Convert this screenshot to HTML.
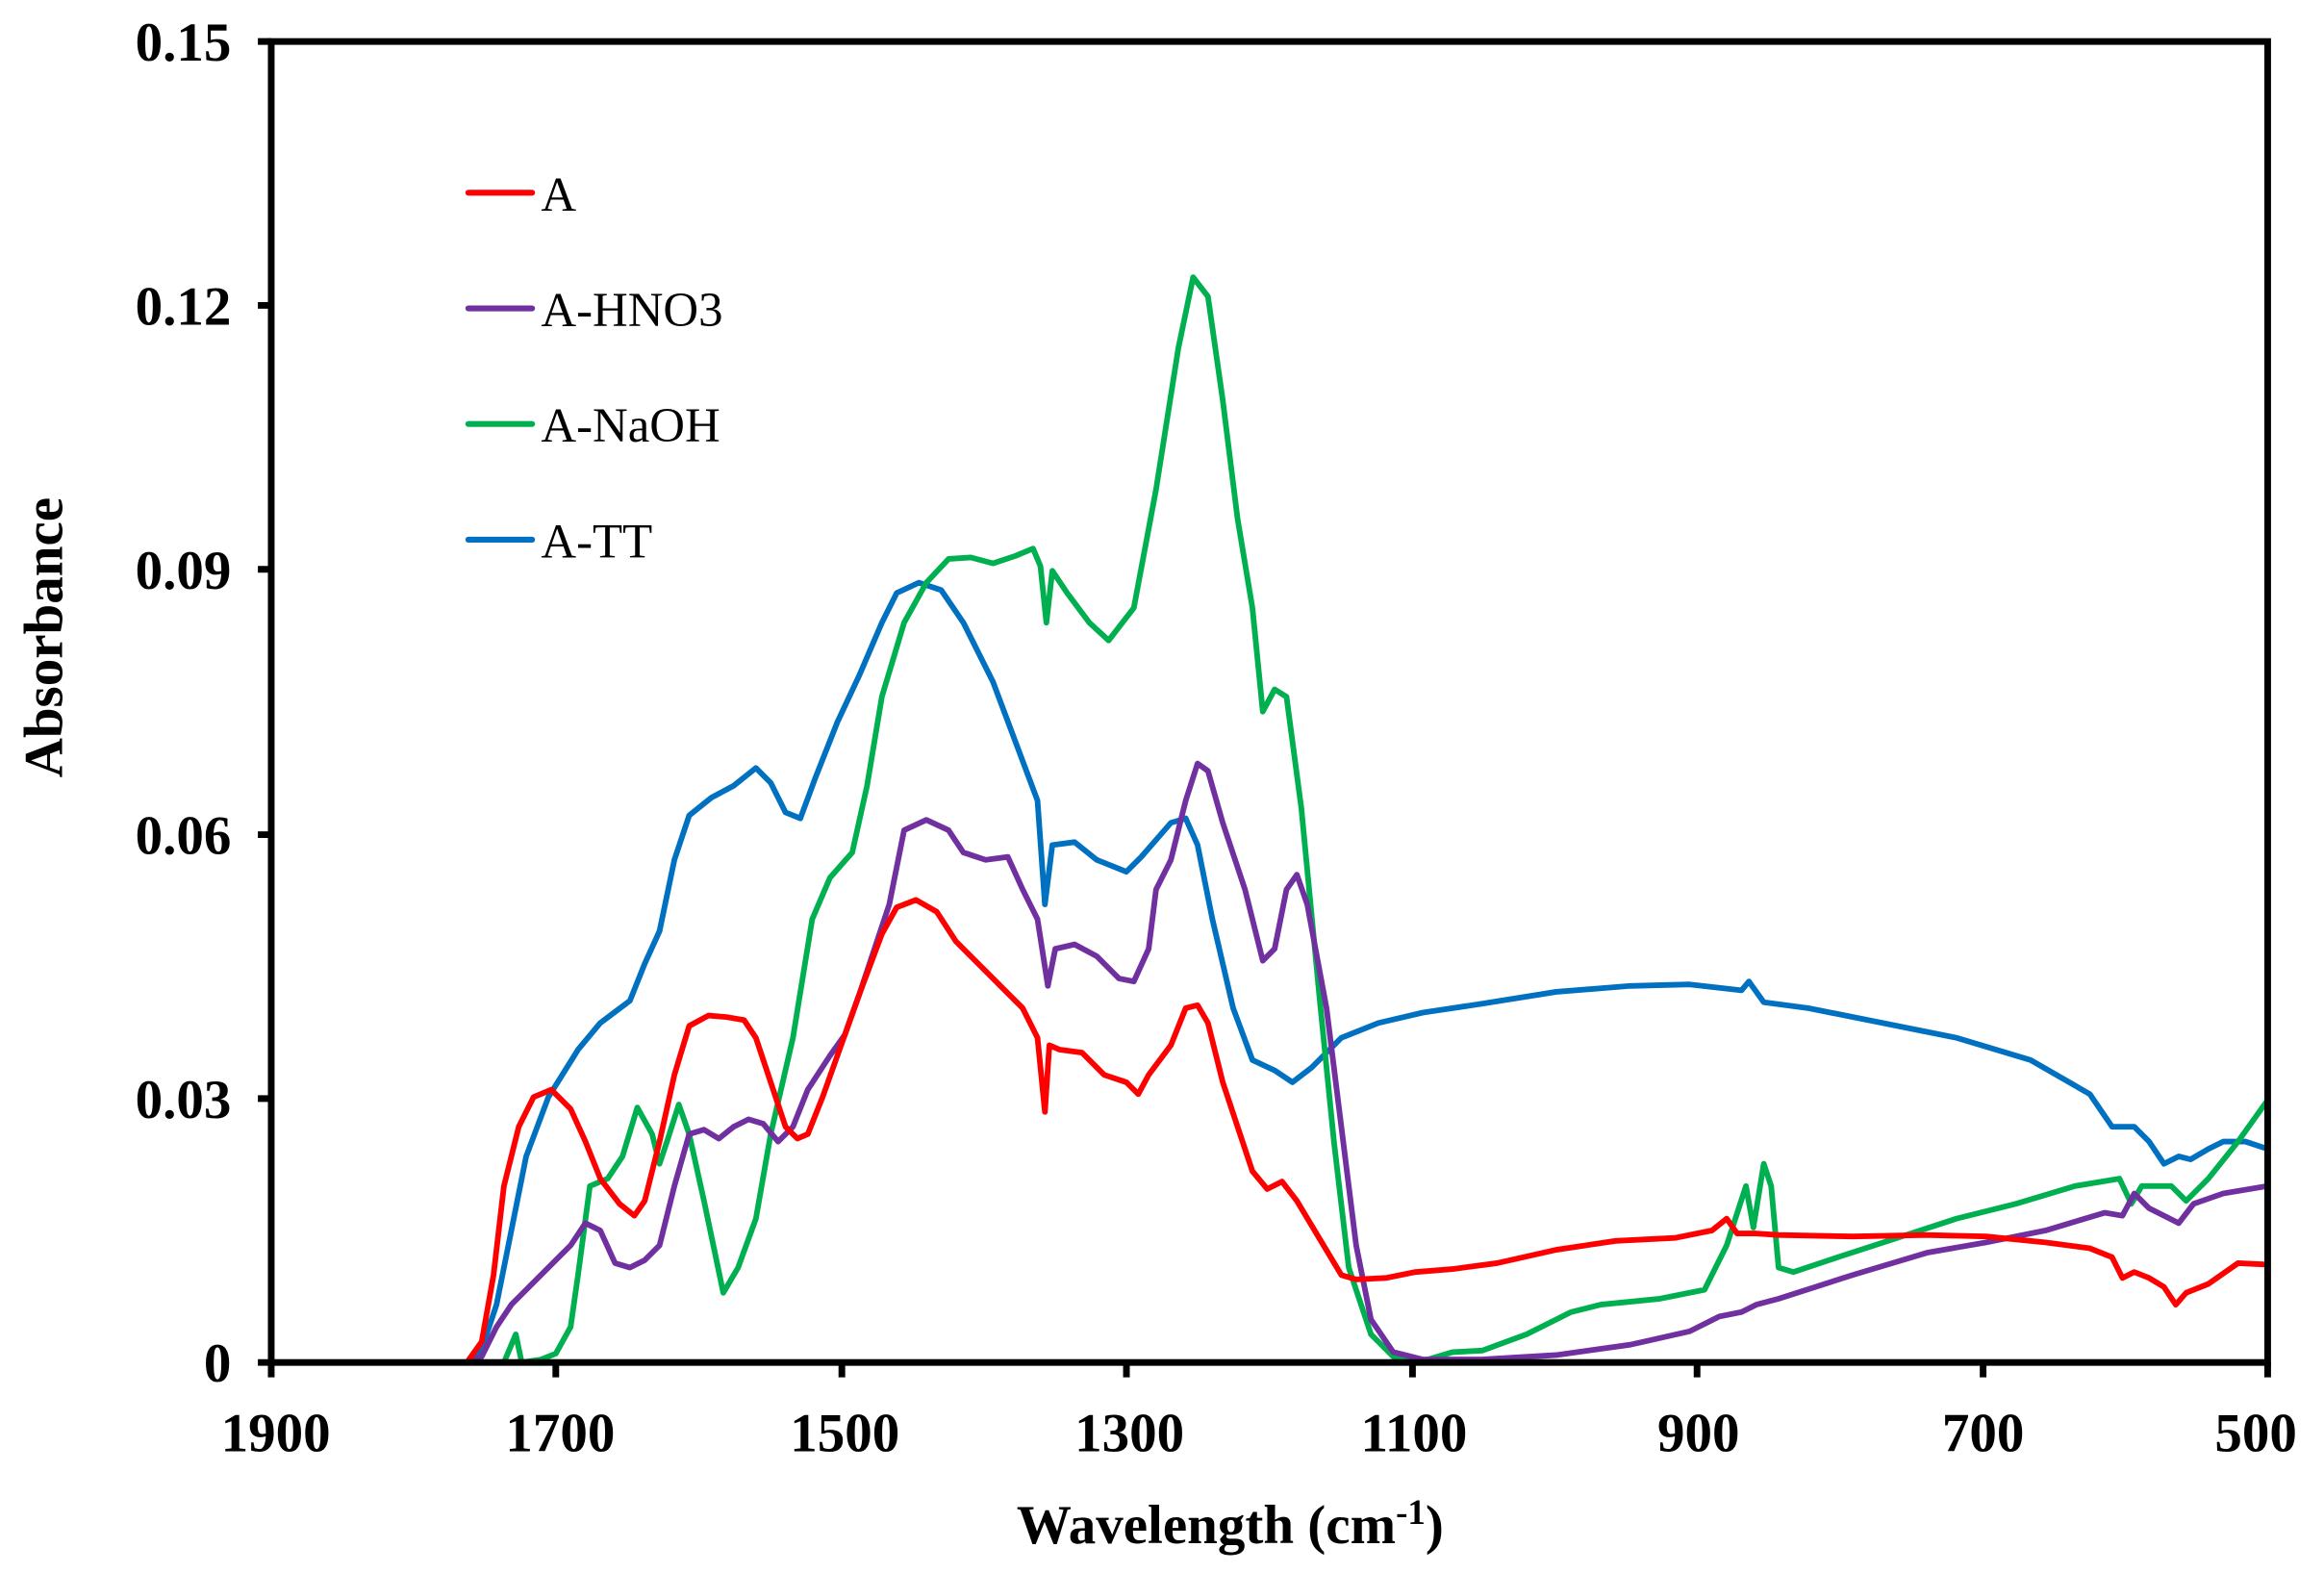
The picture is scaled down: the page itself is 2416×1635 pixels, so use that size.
<!DOCTYPE html>
<html><head><meta charset="utf-8"><style>html,body{margin:0;padding:0;background:#fff}svg{display:block}</style></head>
<body>
<svg width="2416" height="1635" viewBox="0 0 1568 1061" preserveAspectRatio="none" xmlns="http://www.w3.org/2000/svg">
<rect width="1568" height="1061" fill="#fff"/>
<g fill="none" stroke-width="3.8" stroke-linejoin="round" stroke-linecap="round">
<polyline stroke="#0070C0" points="315,919 325,910 335,880 345,830 355,780 370,740 390,708 405,690 425,675 435,650 445,628 455,580 465,550 480,538 495,530 510,518 520,528 530,548 540,552 550,525 565,487 580,455 595,420 605,400 620,393 635,398 650,420 670,460 685,500 700,540 705,610 710,570 725,568 740,580 760,588 770,578 790,555 800,552 808,570 818,620 832,680 845,715 860,722 872,730 885,720 905,700 930,690 960,683 1000,677 1050,669 1100,665 1140,664 1175,668 1180,662 1190,676 1220,680 1270,690 1320,700 1370,715 1410,738 1425,760 1440,760 1450,770 1460,785 1470,780 1478,782 1490,775 1500,770 1515,770 1530,775"/>
<polyline stroke="#00B050" points="315,919 340,919 348,900 352,919 365,917 375,913 385,895 390,860 398,800 410,795 420,780 430,747 440,765 445,785 450,770 458,745 465,765 475,810 488,872 498,855 510,822 520,765 535,700 548,620 560,592 575,575 585,530 595,470 610,420 625,393 640,377 655,376 670,380 685,375 697,370 702,382 706,420 710,385 720,400 735,420 748,432 765,410 780,330 795,235 805,187 815,200 825,270 835,350 845,410 852,480 860,465 868,470 878,545 890,670 900,770 910,855 925,900 940,915 960,918 980,912 1000,911 1030,900 1060,885 1080,880 1120,876 1150,870 1165,840 1178,800 1183,828 1190,785 1195,800 1200,855 1210,858 1240,848 1280,835 1320,822 1360,812 1400,800 1430,795 1438,812 1445,800 1465,800 1475,810 1490,795 1510,770 1530,742"/>
<polyline stroke="#7030A0" points="315,919 325,915 335,895 345,880 360,865 375,850 385,840 395,825 405,830 415,852 425,855 435,850 445,840 455,800 465,765 475,762 485,768 495,760 505,755 515,758 525,770 535,760 545,735 560,712 570,698 580,670 590,640 600,610 610,560 625,553 640,560 650,575 665,580 680,578 690,600 700,620 707,665 712,640 725,637 740,645 755,660 765,662 775,640 780,600 790,580 800,540 808,515 815,520 825,555 840,600 852,648 860,640 868,600 875,590 882,610 895,680 905,760 915,840 925,890 940,912 960,917 1000,917 1050,914 1100,907 1140,898 1160,888 1175,885 1185,880 1200,876 1250,860 1300,845 1340,838 1380,830 1420,818 1432,820 1440,805 1450,815 1470,825 1480,812 1500,805 1530,800"/>
<polyline stroke="#FF0000" points="315,919 325,905 333,860 340,800 350,760 360,740 372,735 385,748 395,770 405,795 418,812 428,820 435,810 445,770 455,725 465,692 478,685 490,686 502,688 510,700 520,730 530,760 538,768 545,765 555,740 565,712 580,670 595,630 605,612 618,607 632,615 645,635 660,650 675,665 690,680 700,700 705,750 708,705 715,708 730,710 745,725 760,730 768,738 775,725 790,705 800,680 808,678 815,690 825,730 835,760 845,790 855,802 865,797 875,810 890,835 905,860 915,863 935,862 955,858 980,856 1010,852 1050,843 1090,837 1130,835 1155,830 1165,822 1172,832 1185,832 1200,833 1250,834 1300,833 1340,834 1380,838 1410,842 1425,848 1432,862 1440,858 1450,862 1460,868 1468,880 1475,872 1490,866 1510,852 1530,853"/>
</g>
<g stroke="#000" stroke-width="4.5" fill="none">
<rect x="183" y="28" width="1347" height="891"/>
<path d="M174,28H183M174,206H183M174,384H183M174,563H183M174,741H183M174,919H183"/>
<path d="M183,919V929M375,919V929M568,919V929M760,919V929M953,919V929M1145,919V929M1338,919V929M1530,919V929"/>
</g>
<g font-family="Liberation Serif, serif" font-weight="bold" font-size="37" fill="#000" text-anchor="end">
<text x="156" y="41">0.15</text><text x="156" y="219">0.12</text><text x="156" y="397">0.09</text><text x="156" y="576">0.06</text><text x="156" y="754">0.03</text><text x="156" y="932">0</text>
</g>
<g font-family="Liberation Serif, serif" font-weight="bold" font-size="37" fill="#000" text-anchor="middle">
<text x="186" y="979">1900</text><text x="378" y="979">1700</text><text x="570" y="979">1500</text><text x="762" y="979">1300</text><text x="954" y="979">1100</text><text x="1146" y="979">900</text><text x="1338" y="979">700</text><text x="1522" y="979">500</text>
<text x="830" y="1041">Wavelength (cm<tspan font-size="24" dy="-13">-1</tspan><tspan dy="13">)</tspan></text>
<text transform="translate(42,430) rotate(-90)">Absorbance</text>
</g>
<g stroke-width="4" stroke-linecap="round">
<line x1="316" y1="130" x2="359" y2="130" stroke="#FF0000"/>
<line x1="316" y1="208" x2="359" y2="208" stroke="#7030A0"/>
<line x1="316" y1="286" x2="359" y2="286" stroke="#00B050"/>
<line x1="316" y1="364" x2="359" y2="364" stroke="#0070C0"/>
</g>
<g font-family="Liberation Serif, serif" font-size="33" fill="#000">
<text x="365" y="142">A</text><text x="365" y="220">A-HNO3</text><text x="365" y="298">A-NaOH</text><text x="365" y="376">A-TT</text>
</g>
</svg>
</body></html>
